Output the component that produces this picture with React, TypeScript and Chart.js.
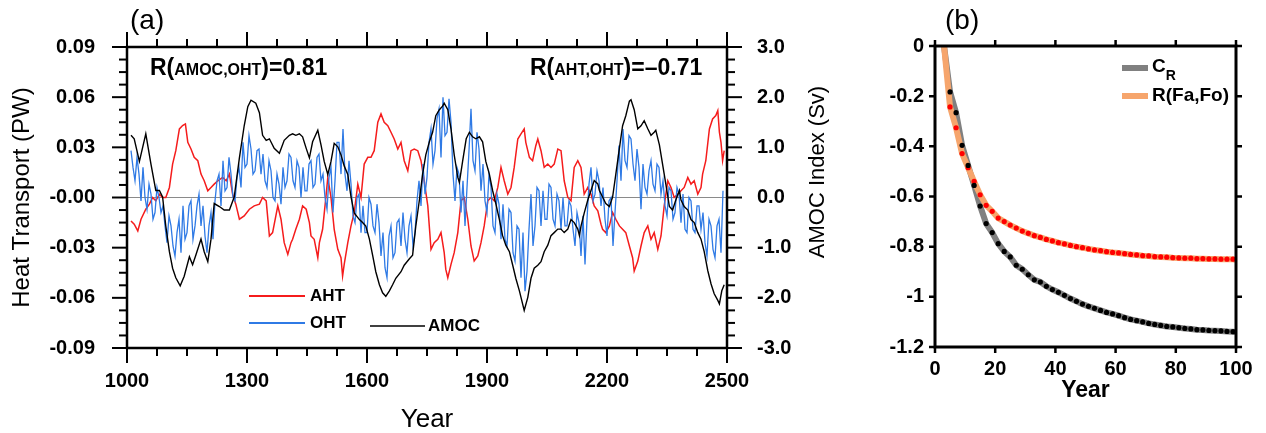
import React, { useEffect, useRef } from 'react';
import { Chart, registerables } from 'chart.js';

Chart.register(...registerables);

const FONT = '"Liberation Sans", Arial, Helvetica, sans-serif';

// ---------------- Panel (a) data ----------------
const xTickYears = [1000, 1300, 1600, 1900, 2200, 2500];

const ahtYears = [
  1010, 1018, 1027, 1035, 1047, 1056, 1064, 1072, 1081, 1089, 1097, 1106, 1114, 1122, 1131, 1139, 1146, 1152, 1160, 1168,
  1177, 1185, 1193, 1202, 1210, 1218, 1227, 1239, 1248, 1256, 1264, 1272, 1281, 1293, 1306, 1318, 1331, 1339, 1348, 1356,
  1364, 1377, 1385, 1393, 1402, 1410, 1414, 1422, 1431, 1439, 1448, 1456, 1460, 1468, 1477, 1481, 1489, 1498, 1502, 1510,
  1518, 1527, 1535, 1539, 1543, 1552, 1560, 1568, 1577, 1585, 1593, 1602, 1610, 1618, 1627, 1635, 1643, 1652, 1660, 1668,
  1677, 1685, 1693, 1702, 1710, 1718, 1727, 1735, 1743, 1752, 1760, 1768, 1777, 1785, 1793, 1797, 1802, 1810, 1818, 1827,
  1835, 1843, 1852, 1860, 1868, 1877, 1885, 1893, 1902, 1910, 1918, 1927, 1935, 1943, 1952, 1960, 1968, 1977, 1985, 1993,
  1997, 2006, 2014, 2022, 2027, 2035, 2043, 2052, 2060, 2068, 2077, 2085, 2093, 2102, 2110, 2118, 2127, 2135, 2143, 2152,
  2160, 2168, 2177, 2185, 2189, 2197, 2206, 2214, 2222, 2231, 2239, 2247, 2256, 2264, 2268, 2277, 2285, 2293, 2302, 2310,
  2318, 2327, 2335, 2343, 2352, 2360, 2368, 2377, 2385, 2393, 2402, 2410, 2418, 2427, 2435, 2439, 2447, 2456, 2464, 2472,
  2477, 2481, 2485, 2489, 2493,
];
const ahtValues = [
  -0.014, -0.016, -0.020, -0.013, -0.007, -0.004, 0.000, -0.002, 0.002, 0.000, 0.000, 0.006, 0.020, 0.028, 0.041, 0.043, 0.044, 0.033, 0.029, 0.024,
  0.022, 0.014, 0.010, 0.004, 0.006, 0.008, 0.010, 0.012, 0.010, 0.014, 0.002, -0.004, -0.013, -0.011, -0.007, -0.005, -0.004, 0.000, -0.002, -0.023,
  -0.021, -0.005, -0.013, -0.027, -0.034, -0.027, -0.025, -0.019, -0.013, -0.005, -0.007, -0.015, -0.023, -0.025, -0.036, -0.027, -0.019, 0.002, 0.012, 0.000,
  -0.019, -0.031, -0.036, -0.047, -0.040, -0.027, -0.017, -0.009, 0.008, 0.000, 0.020, 0.024, 0.024, 0.028, 0.045, 0.050, 0.045, 0.043, 0.039, 0.035,
  0.029, 0.033, 0.022, 0.016, 0.028, 0.029, 0.028, 0.022, 0.010, -0.005, -0.031, -0.027, -0.025, -0.021, -0.033, -0.043, -0.048, -0.040, -0.033, -0.021,
  -0.002, 0.000, -0.013, -0.029, -0.038, -0.035, -0.027, -0.017, -0.002, 0.000, -0.002, 0.006, 0.018, 0.010, 0.002, 0.006, 0.018, 0.035, 0.038, 0.041,
  0.033, 0.024, 0.022, 0.031, 0.035, 0.028, 0.018, 0.020, 0.018, 0.020, 0.029, 0.028, 0.010, 0.000, -0.002, 0.018, 0.022, 0.018, 0.002, 0.006,
  0.002, -0.005, -0.008, -0.016, -0.019, -0.021, -0.017, -0.009, -0.013, -0.017, -0.019, -0.021, -0.029, -0.036, -0.044, -0.038, -0.029, -0.021, -0.017, -0.025,
  -0.021, -0.031, -0.023, -0.005, 0.010, 0.006, 0.000, 0.002, 0.004, 0.006, 0.012, 0.008, 0.010, 0.002, 0.006, 0.014, 0.022, 0.041, 0.047, 0.049,
  0.052, 0.039, 0.033, 0.022, 0.028,
];

const amocYears = [
  1010, 1018, 1031, 1047, 1060, 1072, 1081, 1089, 1097, 1106, 1114, 1122, 1133, 1143, 1156, 1164, 1172, 1185, 1193, 1202,
  1210, 1218, 1231, 1243, 1256, 1268, 1281, 1293, 1302, 1310, 1322, 1331, 1339, 1348, 1356, 1368, 1381, 1393, 1406, 1414,
  1422, 1431, 1439, 1448, 1456, 1464, 1477, 1485, 1493, 1502, 1510, 1518, 1527, 1535, 1543, 1552, 1560, 1568, 1581, 1589,
  1597, 1606, 1614, 1622, 1631, 1639, 1647, 1656, 1664, 1672, 1685, 1693, 1706, 1714, 1722, 1731, 1739, 1747, 1756, 1764,
  1772, 1781, 1789, 1793, 1802, 1810, 1818, 1827, 1831, 1839, 1848, 1856, 1864, 1872, 1881, 1889, 1897, 1906, 1914, 1922,
  1931, 1939, 1947, 1956, 1964, 1972, 1981, 1989, 1993, 2002, 2010, 2018, 2027, 2035, 2043, 2052, 2060, 2068, 2077, 2085,
  2093, 2102, 2110, 2118, 2127, 2131, 2135, 2143, 2152, 2160, 2168, 2177, 2181, 2189, 2197, 2206, 2214, 2222, 2231, 2239,
  2247, 2256, 2260, 2268, 2277, 2285, 2293, 2302, 2310, 2318, 2322, 2331, 2339, 2347, 2356, 2364, 2372, 2381, 2385, 2393,
  2402, 2410, 2418, 2427, 2435, 2443, 2452, 2460, 2468, 2477, 2481, 2487, 2493,
];
const amocValues = [
  1.24, 1.17, 0.72, 1.27, 0.66, 0.14, 0.14, 0.01, -0.57, -1.08, -1.41, -1.60, -1.76, -1.57, -1.18, -1.34, -1.15, -0.83, -1.08, -1.28,
  -0.83, -0.12, -0.18, -0.25, -0.25, 0.01, 0.79, 1.43, 1.81, 1.94, 1.88, 1.69, 1.24, 1.14, 1.17, 0.98, 0.88, 1.14, 1.24, 1.27,
  1.24, 1.27, 1.21, 0.98, 0.79, 1.11, 1.34, 1.05, 0.72, 0.46, 0.72, 1.08, 1.01, 0.85, 0.63, 0.46, 0.01, -0.31, -0.44, -0.50,
  -0.57, -0.83, -1.15, -1.48, -1.74, -1.90, -1.97, -1.86, -1.74, -1.61, -1.48, -1.35, -1.22, -1.15, -0.57, -0.05, 0.46, 0.85, 1.11, 1.30,
  1.63, 1.75, 1.82, 1.88, 1.75, 1.37, 0.85, 0.40, 0.30, 0.72, 1.17, 1.30, 1.21, 1.17, 1.21, 1.11, 0.72, 0.46, 0.14, -0.12,
  -0.44, -0.76, -0.95, -1.08, -1.34, -1.61, -1.86, -2.12, -2.25, -1.99, -1.61, -1.41, -1.35, -1.28, -1.08, -0.95, -0.76, -0.70, -0.63, -0.63,
  -0.70, -0.63, -0.44, -0.50, -0.63, -0.76, -0.57, -0.31, -0.05, 0.14, 0.34, 0.27, 0.14, 0.01, -0.12, -0.18, 0.01, 0.46, 0.98, 1.43,
  1.63, 1.92, 1.95, 1.75, 1.37, 1.43, 1.53, 1.37, 1.24, 1.30, 1.34, 1.05, 0.66, 0.27, -0.18, -0.25, -0.05, 0.14, -0.05, -0.18,
  -0.25, -0.44, -0.50, -0.70, -0.83, -1.08, -1.46, -1.72, -1.92, -2.05, -2.12, -1.86, -1.74,
];

const ohtStartYear = 1010;
const ohtStepYears = 5;
const ohtValues = [
  0.028, 0.018, 0.010, 0.024, 0.014, -0.002, 0.018, 0.000, -0.007, 0.008,
  0.002, -0.013, -0.009, 0.006, 0.000, -0.009, -0.005, -0.017, -0.027, -0.011,
  -0.017, -0.029, -0.035, -0.021, -0.013, -0.033, -0.005, -0.025, -0.021, -0.005,
  -0.002, -0.025, -0.017, -0.005, 0.002, -0.017, -0.005, -0.023, -0.033, -0.017,
  -0.009, -0.025, -0.002, 0.010, 0.014, -0.005, 0.022, 0.004, 0.006, 0.024,
  0.014, 0.000, -0.002, 0.012, 0.018, 0.006, 0.033, 0.018, 0.020, 0.037,
  0.029, 0.014, 0.016, 0.028, 0.029, 0.014, 0.026, 0.010, 0.006, 0.022,
  0.016, 0.000, -0.002, 0.014, 0.008, -0.004, 0.018, 0.006, 0.010, 0.026,
  0.024, 0.010, 0.006, 0.022, 0.018, 0.000, 0.018, 0.004, 0.004, 0.020,
  0.022, 0.006, 0.008, 0.024, 0.026, 0.010, 0.014, 0.000, -0.007, 0.012,
  0.018, -0.009, 0.010, 0.033, 0.033, 0.014, 0.041, 0.014, 0.004, 0.022,
  0.008, -0.011, -0.015, 0.000, 0.002, -0.021, -0.005, -0.021, -0.021, 0.000,
  -0.004, -0.017, -0.021, -0.004, -0.015, -0.035, -0.021, -0.042, -0.048, -0.023,
  -0.017, -0.036, -0.033, -0.015, -0.013, -0.029, -0.009, -0.025, -0.033, -0.017,
  -0.011, -0.029, -0.021, -0.002, 0.010, -0.005, 0.020, 0.002, 0.012, 0.033,
  0.041, 0.020, 0.028, 0.047, 0.053, 0.024, 0.060, 0.037, 0.039, 0.059,
  0.045, 0.014, -0.002, 0.018, 0.014, -0.009, 0.010, -0.017, 0.006, 0.028,
  0.053, 0.022, 0.016, 0.039, 0.029, 0.004, 0.020, -0.002, -0.009, 0.014,
  0.006, -0.017, -0.021, 0.002, -0.004, -0.025, -0.004, -0.025, -0.029, -0.007,
  -0.009, -0.033, -0.038, -0.017, -0.019, -0.048, -0.021, -0.056, -0.044, -0.019,
  0.002, -0.029, -0.017, 0.006, 0.004, -0.017, 0.004, -0.013, -0.013, 0.008,
  0.006, -0.013, -0.017, 0.002, -0.002, -0.019, 0.000, -0.017, -0.017, -0.002,
  -0.005, -0.019, -0.029, -0.009, -0.015, -0.035, -0.011, -0.040, -0.013, 0.008,
  0.018, -0.002, 0.002, 0.016, 0.010, -0.005, 0.006, -0.013, -0.023, -0.002,
  0.000, -0.029, -0.009, 0.010, 0.031, 0.010, 0.041, 0.022, 0.018, 0.037,
  0.035, 0.020, 0.010, 0.029, 0.018, -0.007, 0.020, 0.006, 0.002, 0.016,
  0.022, 0.008, 0.004, 0.020, 0.018, 0.002, 0.010, -0.005, -0.011, 0.006,
  0.004, -0.013, -0.009, 0.006, 0.002, -0.015, 0.002, -0.019, -0.021, 0.000,
  -0.002, -0.019, -0.021, -0.005, -0.005, -0.019, -0.009, -0.027, -0.035, -0.013,
  -0.017, -0.031, -0.036, -0.017, -0.013, -0.033,
  0.004,
];

// ---------------- Panel (b) data ----------------
const lagDots = [
  5, 7, 9, 11, 13, 15, 17, 19, 21, 23, 25, 27, 29, 31, 33, 35, 37, 39, 41, 43, 45, 47, 49, 51,
  53, 55, 57, 59, 61, 63, 65, 67, 69, 71, 73, 75, 77, 79, 81, 83, 85, 87, 89, 91, 93, 95, 97, 99,
];
const crValues = [
  -0.183, -0.266, -0.396, -0.476, -0.556, -0.638, -0.708, -0.744, -0.788, -0.819, -0.841, -0.874,
  -0.890, -0.912, -0.932, -0.941, -0.958, -0.971, -0.982, -0.994, -1.007, -1.018, -1.029, -1.038,
  -1.046, -1.054, -1.062, -1.068, -1.075, -1.083, -1.090, -1.095, -1.100, -1.106, -1.110, -1.114,
  -1.118, -1.120, -1.123, -1.126, -1.128, -1.131, -1.132, -1.134, -1.135, -1.136, -1.138, -1.139,
];
const rfaValues = [
  -0.243, -0.326, -0.429, -0.485, -0.540, -0.593, -0.635, -0.659, -0.686, -0.700, -0.714, -0.726,
  -0.738, -0.747, -0.756, -0.763, -0.771, -0.777, -0.784, -0.789, -0.795, -0.800, -0.804, -0.809,
  -0.813, -0.816, -0.820, -0.823, -0.825, -0.828, -0.831, -0.833, -0.836, -0.837, -0.840, -0.841,
  -0.842, -0.844, -0.845, -0.846, -0.846, -0.848, -0.848, -0.849, -0.849, -0.850, -0.850, -0.850,
];
const lineStartLag = 3;
const lineStartValue = 0;
const lineEndLag = 100;
const crEndValue = -1.14;
const rfaEndValue = -0.852;

// ---------------- helpers ----------------
const RED = '#f51c1c';
const BLUE = '#2f7ae5';
const GRAY = '#808080';
const ORANGE = '#f6a56c';

type AxisSpec = {
  id: string; min: number; max: number; major: number; minor: number;
  sides: string[]; majorLen: number; minorLen: number;
};

function makeFramePlugin(axes: AxisSpec[], frameWidth: number, tickWidth: number) {
  return {
    id: 'frameTicks',
    afterDatasetsDraw(chart: any) {
      const { ctx, chartArea: a } = chart;
      ctx.save();
      ctx.strokeStyle = '#000';
      ctx.lineCap = 'butt';
      ctx.lineWidth = tickWidth;
      for (const ax of axes) {
        const scale = chart.scales[ax.id];
        const n = Math.round((ax.max - ax.min) / ax.minor);
        const per = Math.round(ax.major / ax.minor);
        for (let i = 0; i <= n; i++) {
          const v = ax.min + i * ax.minor;
          const len = i % per === 0 ? ax.majorLen : ax.minorLen;
          const p = scale.getPixelForValue(v);
          ctx.beginPath();
          for (const s of ax.sides) {
            if (s === 'left') { ctx.moveTo(a.left, p); ctx.lineTo(a.left - len, p); }
            if (s === 'right') { ctx.moveTo(a.right, p); ctx.lineTo(a.right + len, p); }
            if (s === 'bottom') { ctx.moveTo(p, a.bottom); ctx.lineTo(p, a.bottom + len); }
            if (s === 'top') { ctx.moveTo(p, a.top); ctx.lineTo(p, a.top - len); }
          }
          ctx.stroke();
        }
      }
      ctx.lineWidth = frameWidth;
      ctx.strokeRect(a.left, a.top, a.right - a.left, a.bottom - a.top);
      ctx.restore();
    },
  };
}

type Seg = { text: string; font: string; dy?: number; color?: string };
type TextItem = { x: number; y: number; segs: Seg[]; align?: string; rotate?: number; baseline?: string };
type LegendLine = { x1: number; x2: number; y: number; color: string; width: number };

function makeTextPlugin(items: TextItem[], lines: LegendLine[]) {
  return {
    id: 'texts',
    afterDraw(chart: any) {
      const ctx = chart.ctx;
      ctx.save();
      for (const ln of lines) {
        ctx.strokeStyle = ln.color;
        ctx.lineWidth = ln.width;
        ctx.lineCap = 'butt';
        ctx.beginPath();
        ctx.moveTo(ln.x1, ln.y);
        ctx.lineTo(ln.x2, ln.y);
        ctx.stroke();
      }
      for (const it of items) {
        ctx.save();
        ctx.translate(it.x, it.y);
        if (it.rotate) ctx.rotate(it.rotate);
        ctx.textBaseline = it.baseline || 'alphabetic';
        ctx.textAlign = 'left';
        let total = 0;
        for (const s of it.segs) { ctx.font = s.font; total += ctx.measureText(s.text).width; }
        let x = it.align === 'center' ? -total / 2 : 0;
        for (const s of it.segs) {
          ctx.font = s.font;
          ctx.fillStyle = s.color || '#000';
          ctx.fillText(s.text, x, s.dy || 0);
          x += ctx.measureText(s.text).width;
        }
        ctx.restore();
      }
      ctx.restore();
    },
  };
}

const bold = (px: number) => `bold ${px}px ${FONT}`;
const reg = (px: number) => `${px}px ${FONT}`;

export default function App() {
  const refA = useRef<HTMLCanvasElement>(null);
  const refB = useRef<HTMLCanvasElement>(null);

  useEffect(() => {
    const ahtData = ahtYears.map((x, i) => ({ x, y: ahtValues[i] }));
    const amocData = amocYears.map((x, i) => ({ x, y: amocValues[i] }));
    const ohtData = ohtValues.map((y, i) => ({ x: ohtStartYear + i * ohtStepYears, y }));

    const framesA = makeFramePlugin([
      { id: 'x', min: 1000, max: 2500, major: 300, minor: 75, sides: ['bottom', 'top'], majorLen: 15, minorLen: 8 },
      { id: 'y', min: -0.09, max: 0.09, major: 0.03, minor: 0.0075, sides: ['left'], majorLen: 15, minorLen: 8 },
      { id: 'y1', min: -3, max: 3, major: 1, minor: 0.25, sides: ['right'], majorLen: 15, minorLen: 8 },
    ], 2.5, 2);

    const textsA = makeTextPlugin([
      { x: 130, y: 29, segs: [{ text: '(a)', font: reg(28) }] },
      { x: 150, y: 75, segs: [
        { text: 'R(', font: bold(23) }, { text: 'AMOC,OHT', font: bold(16) }, { text: ')=0.81', font: bold(23) },
      ] },
      { x: 530, y: 75, segs: [
        { text: 'R(', font: bold(23) }, { text: 'AHT,OHT', font: bold(16) }, { text: ')=\u20130.71', font: bold(23) },
      ] },
      { x: 310, y: 296, baseline: 'middle', segs: [{ text: 'AHT', font: bold(17) }] },
      { x: 310, y: 323, baseline: 'middle', segs: [{ text: 'OHT', font: bold(17) }] },
      { x: 428, y: 326, baseline: 'middle', segs: [{ text: 'AMOC', font: bold(17) }] },
      { x: 818, y: 172, rotate: -Math.PI / 2, align: 'center', baseline: 'middle', segs: [{ text: 'AMOC Index (Sv)', font: reg(22) }] },
    ], [
      { x1: 249, x2: 305, y: 296, color: RED, width: 2 },
      { x1: 249, x2: 305, y: 323, color: BLUE, width: 2 },
      { x1: 370, x2: 425, y: 326, color: '#000', width: 1.5 },
    ]);

    const chartA = new Chart(refA.current as HTMLCanvasElement, {
      type: 'line',
      data: {
        datasets: [
          { label: 'AMOC', data: amocData, yAxisID: 'y1', borderColor: '#000', borderWidth: 1.4, pointRadius: 0, tension: 0 },
          { label: 'OHT', data: ohtData, yAxisID: 'y', borderColor: BLUE, borderWidth: 1.3, pointRadius: 0, tension: 0 },
          { label: 'AHT', data: ahtData, yAxisID: 'y', borderColor: RED, borderWidth: 1.5, pointRadius: 0, tension: 0 },
        ],
      },
      options: {
        responsive: false,
        animation: false,
        devicePixelRatio: 1,
        layout: { padding: { top: 47, left: 0, right: 0, bottom: 0 } },
        plugins: { legend: { display: false }, tooltip: { enabled: false } },
        scales: {
          x: {
            type: 'linear', min: 1000, max: 2500,
            afterFit: (s: any) => { s.height = 85; },
            afterBuildTicks: (s: any) => { s.ticks = xTickYears.map((v) => ({ value: v })); },
            grid: { display: false, drawTicks: false },
            border: { display: false },
            ticks: { padding: 21, color: '#000', font: { family: FONT, size: 20, weight: 'bold' }, maxRotation: 0, autoSkip: false, callback: (v: any) => String(v) },
            title: { display: true, text: 'Year', color: '#000', font: { family: FONT, size: 26, lineHeight: 1 }, padding: { top: 0, bottom: 0 } },
          },
          y: {
            position: 'left', min: -0.09, max: 0.09,
            afterFit: (s: any) => { s.width = 127; },
            grid: { drawTicks: false, lineWidth: 1, color: (c: any) => (c.tick && Math.abs(c.tick.value) < 1e-9 ? '#8a8a8a' : 'rgba(0,0,0,0)') },
            border: { display: false },
            ticks: { stepSize: 0.03, padding: 32, color: '#000', font: { family: FONT, size: 20, weight: 'bold' }, callback: (v: any) => (Math.abs(v) < 1e-9 ? '-0.00' : Number(v).toFixed(2)) },
            title: { display: true, text: 'Heat Transport (PW)', color: '#000', font: { family: FONT, size: 24, lineHeight: 1 }, padding: { top: 10, bottom: 0 } },
          },
          y1: {
            position: 'right', min: -3, max: 3,
            afterFit: (s: any) => { s.width = 133; },
            grid: { display: false, drawTicks: false },
            border: { display: false },
            ticks: { stepSize: 1, padding: 30, color: '#000', font: { family: FONT, size: 20, weight: 'bold' }, callback: (v: any) => Number(v).toFixed(1) },
          },
        },
      } as any,
      plugins: [framesA, textsA],
    });

    // ---- Panel (b) ----
    const crDots = lagDots.map((x, i) => ({ x, y: crValues[i] }));
    const rfaDots = lagDots.map((x, i) => ({ x, y: rfaValues[i] }));
    const crLine = [{ x: lineStartLag, y: lineStartValue }, ...crDots, { x: lineEndLag, y: crEndValue }];
    const rfaLine = [{ x: lineStartLag, y: lineStartValue }, ...rfaDots, { x: lineEndLag, y: rfaEndValue }];

    const framesB = makeFramePlugin([
      { id: 'x', min: 0, max: 100, major: 20, minor: 20, sides: ['bottom', 'top'], majorLen: 6, minorLen: 6 },
      { id: 'y', min: -1.2, max: 0, major: 0.2, minor: 0.2, sides: ['left', 'right'], majorLen: 6, minorLen: 6 },
    ], 3, 2.5);

    const textsB = makeTextPlugin([
      { x: 85, y: 29, segs: [{ text: '(b)', font: reg(28) }] },
      { x: 292, y: 72, segs: [{ text: 'C', font: bold(19) }, { text: 'R', font: bold(14), dy: 8 }] },
      { x: 292, y: 101, segs: [{ text: 'R(Fa,Fo)', font: bold(19) }] },
    ], [
      { x1: 262, x2: 288, y: 68, color: GRAY, width: 6 },
      { x1: 262, x2: 288, y: 96, color: ORANGE, width: 6 },
    ]);

    const chartB = new Chart(refB.current as HTMLCanvasElement, {
      type: 'line',
      data: {
        datasets: [
          { label: 'C_R dots', data: crDots, showLine: false, pointRadius: 2.6, pointBorderWidth: 0, pointBackgroundColor: '#000', borderColor: '#000' },
          { label: 'R dots', data: rfaDots, showLine: false, pointRadius: 2.6, pointBorderWidth: 0, pointBackgroundColor: '#ff0000', borderColor: '#ff0000' },
          { label: 'R(Fa,Fo)', data: rfaLine, borderColor: ORANGE, borderWidth: 6, pointRadius: 0, tension: 0 },
          { label: 'C_R', data: crLine, borderColor: GRAY, borderWidth: 6, pointRadius: 0, tension: 0 },
        ],
      },
      options: {
        responsive: false,
        animation: false,
        devicePixelRatio: 1,
        layout: { padding: { top: 46, left: 0, right: 30, bottom: 0 } },
        plugins: { legend: { display: false }, tooltip: { enabled: false } },
        scales: {
          x: {
            type: 'linear', min: 0, max: 100,
            afterFit: (s: any) => { s.height = 86; },
            grid: { display: false, drawTicks: false },
            border: { display: false },
            ticks: { stepSize: 20, padding: 10, color: '#000', font: { family: FONT, size: 20, weight: 'bold' }, maxRotation: 0, autoSkip: false, callback: (v: any) => String(v) },
            title: { display: true, text: 'Year', color: '#000', font: { family: FONT, size: 23, weight: 'bold', lineHeight: 1 }, padding: { top: 0, bottom: 31 } },
          },
          y: {
            position: 'left', min: -1.2, max: 0,
            afterFit: (s: any) => { s.width = 75; },
            grid: { display: false, drawTicks: false },
            border: { display: false },
            ticks: { stepSize: 0.2, padding: 11, color: '#000', font: { family: FONT, size: 20, weight: 'bold' }, callback: (v: any) => String(Number(Number(v).toFixed(1))) },
          },
        },
      } as any,
      plugins: [framesB, textsB],
    });

    return () => { chartA.destroy(); chartB.destroy(); };
  }, []);

  return (
    <div style={{ position: 'fixed', left: 0, top: 0, width: 1266, height: 433, background: '#fff' }}>
      <canvas ref={refA} width={860} height={433} style={{ position: 'absolute', left: 0, top: 0, width: 860, height: 433 }} />
      <canvas ref={refB} width={406} height={433} style={{ position: 'absolute', left: 860, top: 0, width: 406, height: 433 }} />
    </div>
  );
}
